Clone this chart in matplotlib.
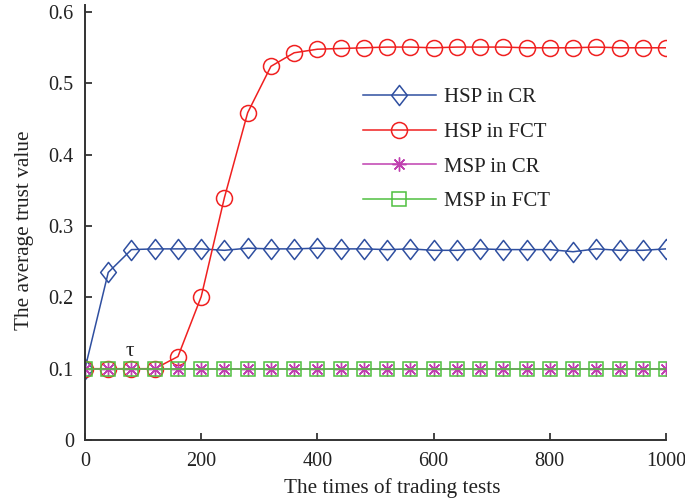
import matplotlib
matplotlib.use("Agg")
import matplotlib.pyplot as plt
from matplotlib.path import Path
import numpy as np

plt.rcParams['font.family'] = ['Liberation Serif', 'DejaVu Serif']

tests = np.arange(0, 1001, 40)

hsp_cr = [0.100, 0.235, 0.267, 0.268, 0.268, 0.268, 0.266, 0.269, 0.268, 0.268,
          0.269, 0.268, 0.268, 0.267, 0.268, 0.266, 0.266, 0.268, 0.267, 0.267,
          0.267, 0.264, 0.268, 0.266, 0.266, 0.268]
hsp_fct = [0.100, 0.100, 0.100, 0.100, 0.117, 0.201, 0.340, 0.459, 0.524, 0.543,
           0.548, 0.549, 0.550, 0.551, 0.551, 0.550, 0.551, 0.551, 0.551, 0.550,
           0.550, 0.550, 0.551, 0.550, 0.550, 0.550]
msp_cr = [0.100] * 26
msp_fct = [0.100] * 26

tau_x, tau_y = 78, 0.111

# taller-than-wide diamond like the matlab one
diamond = Path([(0, 1), (0.78, 0), (0, -1), (-0.78, 0), (0, 1)],
               [Path.MOVETO, Path.LINETO, Path.LINETO, Path.LINETO, Path.CLOSEPOLY])

blue = '#2f4fa0'
red = '#f02020'
magenta = '#c040b0'
green = '#50c040'
txt = '#222222'
fs = 15.3

fig = plt.figure(figsize=(6.85, 5), dpi=100)
ax = fig.add_axes([85 / 685, 60 / 500, 581 / 685, 435 / 500])

ax.plot(tests, hsp_cr, color=blue, lw=1.1, marker=diamond, ms=14.5,
        mfc='none', mec=blue, mew=1.1, label='HSP in CR')
ax.plot(tests, hsp_fct, color=red, lw=1.1, marker='o', ms=11.5,
        mfc='none', mec=red, mew=1.1, label='HSP in FCT')
ax.plot(tests, msp_cr, color=magenta, lw=1.1, marker=(8, 2, 0), ms=10,
        mfc='none', mec=magenta, mew=1.0, label='MSP in CR')
ax.plot(tests, msp_fct, color=green, lw=1.1, marker='s', ms=9.5,
        mfc='none', mec=green, mew=1.1, label='MSP in FCT')

ax.text(tau_x, tau_y, 'τ', ha='center', va='bottom', fontsize=fs, color=txt)

ax.set_xlim(0, 1000)
ax.set_ylim(0, 0.61)
ax.set_xticks(np.arange(0, 1001, 200))
ax.set_yticks(np.arange(0, 0.61, 0.1))
ax.set_yticklabels(['0', '0.1', '0.2', '0.3', '0.4', '0.5', '0.6'])
ax.tick_params(direction='in', length=5, width=1.2, labelsize=14.6, colors=txt)
ax.tick_params(axis='y', pad=8)
ax.tick_params(axis='x', pad=9)

for s in ['top', 'right']:
    ax.spines[s].set_visible(False)
for s in ['left', 'bottom']:
    ax.spines[s].set_linewidth(1.4)
    ax.spines[s].set_color('#333333')

ax.set_xlabel('The times of trading tests', fontsize=fs, color=txt)
ax.set_ylabel('The average trust value', fontsize=fs, color=txt)
ax.xaxis.set_label_coords(0.528, -0.088)
ax.yaxis.set_label_coords(-0.088, 0.483)

ax.legend(loc='center left', bbox_to_anchor=(0.4785, 0.668), frameon=False,
          fontsize=15, handlelength=3.5, handletextpad=0.4, labelspacing=0.72,
          borderpad=0, borderaxespad=0, labelcolor=txt)

fig.savefig('out.png', dpi=100)
